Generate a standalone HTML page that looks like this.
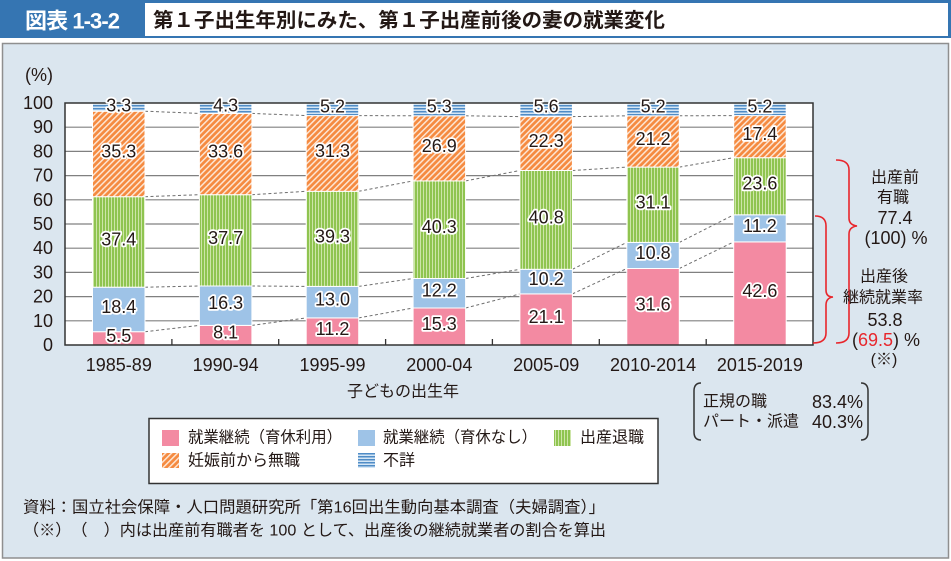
<!DOCTYPE html>
<html><head><meta charset="utf-8"><style>
html,body{margin:0;padding:0;background:#fff;}
svg{display:block;}
text{font-family:"Liberation Sans","Noto Sans CJK JP",sans-serif;fill:#231815;}
.lbl{font-size:18px;stroke:#fff;stroke-width:3.5px;paint-order:stroke;stroke-linejoin:round;}
.ax{font-size:18px;}
.lg{font-size:16px;}
.an{font-size:16px;}
</style></head><body>
<svg width="951" height="561" viewBox="0 0 951 561" xmlns="http://www.w3.org/2000/svg">
<defs>
<pattern id="po" width="4.2" height="4.2" patternUnits="userSpaceOnUse" patternTransform="rotate(45)">
<rect width="4.2" height="4.2" fill="#f58a40"/><rect width="1.5" height="4.2" fill="#fde6d4"/>
</pattern>
<pattern id="pg" width="3" height="3" patternUnits="userSpaceOnUse">
<rect width="3" height="3" fill="#8fc450"/><rect width="1" height="3" fill="#cde5a8"/>
</pattern>
<pattern id="pu" width="3" height="3" patternUnits="userSpaceOnUse">
<rect width="3" height="3" fill="#d4e6f5"/><rect width="3" height="1.5" fill="#4f8cc6"/>
</pattern>
</defs>
<!-- header -->
<rect x="0" y="0" width="951" height="38" fill="#3575b2"/>
<rect x="145" y="3" width="803" height="33" fill="#fff"/>
<text x="25" y="21" dominant-baseline="central" style="fill:#fff;font-size:22px;font-weight:bold" textLength="95" lengthAdjust="spacing">図表 1-3-2</text>
<text x="153" y="21" dominant-baseline="central" style="font-size:20px;font-weight:bold" textLength="512" lengthAdjust="spacingAndGlyphs">第１子出生年別にみた、第１子出産前後の妻の就業変化</text>
<!-- panel -->
<rect x="2.5" y="43.5" width="946" height="514.5" fill="#dbe6ef" stroke="#8f8f8f" stroke-width="1.5"/>
<!-- plot area -->
<rect x="65" y="103" width="748" height="242" fill="#fff"/>
<g stroke="#808080" stroke-width="1.2">
<line x1="65" x2="813" y1="320.8" y2="320.8"/><line x1="65" x2="813" y1="296.6" y2="296.6"/>
<line x1="65" x2="813" y1="272.4" y2="272.4"/><line x1="65" x2="813" y1="248.2" y2="248.2"/>
<line x1="65" x2="813" y1="224" y2="224"/><line x1="65" x2="813" y1="199.8" y2="199.8"/>
<line x1="65" x2="813" y1="175.6" y2="175.6"/><line x1="65" x2="813" y1="151.4" y2="151.4"/>
<line x1="65" x2="813" y1="127.2" y2="127.2"/>
</g>
<!-- dashed connectors -->
<g stroke="#6e6e6e" stroke-width="1" stroke-dasharray="3,2.5" fill="none">
<line x1="145" y1="331.7" x2="199.4" y2="325.4"/><line x1="145" y1="287.2" x2="199.4" y2="286"/><line x1="145" y1="196.7" x2="199.4" y2="194.7"/><line x1="145" y1="111.2" x2="199.4" y2="113.4"/>
<line x1="251.9" y1="325.4" x2="306.2" y2="317.9"/><line x1="251.9" y1="286" x2="306.2" y2="286.4"/><line x1="251.9" y1="194.7" x2="306.2" y2="191.3"/><line x1="251.9" y1="113.4" x2="306.2" y2="115.6"/>
<line x1="358.7" y1="317.9" x2="413.1" y2="308"/><line x1="358.7" y1="286.4" x2="413.1" y2="278.5"/><line x1="358.7" y1="191.3" x2="413.1" y2="180.9"/><line x1="358.7" y1="115.6" x2="413.1" y2="115.8"/>
<line x1="465.6" y1="308" x2="519.9" y2="293.9"/><line x1="465.6" y1="278.5" x2="519.9" y2="269.3"/><line x1="465.6" y1="180.9" x2="519.9" y2="170.5"/><line x1="465.6" y1="115.8" x2="519.9" y2="116.6"/>
<line x1="572.4" y1="293.9" x2="626.8" y2="268.5"/><line x1="572.4" y1="269.3" x2="626.8" y2="242.4"/><line x1="572.4" y1="170.5" x2="626.8" y2="167.1"/><line x1="572.4" y1="116.6" x2="626.8" y2="115.8"/>
<line x1="679.3" y1="268.5" x2="733.7" y2="241.9"/><line x1="679.3" y1="242.4" x2="733.7" y2="214.8"/><line x1="679.3" y1="167.1" x2="733.7" y2="157.7"/><line x1="679.3" y1="115.8" x2="733.7" y2="115.6"/>
</g>
<!-- bars -->
<g stroke="#fff" stroke-width="1">
<rect x="92.5" y="331.7" width="52.5" height="13.3" fill="#f38aa2"/>
<rect x="92.5" y="287.2" width="52.5" height="44.5" fill="#9ec3e7"/>
<rect x="92.5" y="196.7" width="52.5" height="90.5" fill="url(#pg)"/>
<rect x="92.5" y="111.2" width="52.5" height="85.5" fill="url(#po)"/>
<rect x="92.5" y="103.2" width="52.5" height="8" fill="url(#pu)"/>
<rect x="199.4" y="325.4" width="52.5" height="19.6" fill="#f38aa2"/>
<rect x="199.4" y="286" width="52.5" height="39.4" fill="#9ec3e7"/>
<rect x="199.4" y="194.7" width="52.5" height="91.3" fill="url(#pg)"/>
<rect x="199.4" y="113.4" width="52.5" height="81.3" fill="url(#po)"/>
<rect x="199.4" y="103" width="52.5" height="10.4" fill="url(#pu)"/>
<rect x="306.2" y="317.9" width="52.5" height="27.1" fill="#f38aa2"/>
<rect x="306.2" y="286.4" width="52.5" height="31.5" fill="#9ec3e7"/>
<rect x="306.2" y="191.3" width="52.5" height="95.1" fill="url(#pg)"/>
<rect x="306.2" y="115.6" width="52.5" height="75.7" fill="url(#po)"/>
<rect x="306.2" y="103" width="52.5" height="12.6" fill="url(#pu)"/>
<rect x="413.1" y="308" width="52.5" height="37" fill="#f38aa2"/>
<rect x="413.1" y="278.5" width="52.5" height="29.5" fill="#9ec3e7"/>
<rect x="413.1" y="180.9" width="52.5" height="97.6" fill="url(#pg)"/>
<rect x="413.1" y="115.8" width="52.5" height="65.1" fill="url(#po)"/>
<rect x="413.1" y="103" width="52.5" height="12.8" fill="url(#pu)"/>
<rect x="519.9" y="293.9" width="52.5" height="51.1" fill="#f38aa2"/>
<rect x="519.9" y="269.3" width="52.5" height="24.6" fill="#9ec3e7"/>
<rect x="519.9" y="170.5" width="52.5" height="98.8" fill="url(#pg)"/>
<rect x="519.9" y="116.6" width="52.5" height="53.9" fill="url(#po)"/>
<rect x="519.9" y="103" width="52.5" height="13.6" fill="url(#pu)"/>
<rect x="626.8" y="268.5" width="52.5" height="76.5" fill="#f38aa2"/>
<rect x="626.8" y="242.4" width="52.5" height="26.1" fill="#9ec3e7"/>
<rect x="626.8" y="167.1" width="52.5" height="75.3" fill="url(#pg)"/>
<rect x="626.8" y="115.8" width="52.5" height="51.3" fill="url(#po)"/>
<rect x="626.8" y="103.2" width="52.5" height="12.6" fill="url(#pu)"/>
<rect x="733.7" y="241.9" width="52.5" height="103.1" fill="#f38aa2"/>
<rect x="733.7" y="214.8" width="52.5" height="27.1" fill="#9ec3e7"/>
<rect x="733.7" y="157.7" width="52.5" height="57.1" fill="url(#pg)"/>
<rect x="733.7" y="115.6" width="52.5" height="42.1" fill="url(#po)"/>
<rect x="733.7" y="103" width="52.5" height="12.6" fill="url(#pu)"/>
</g>
<!-- frame -->
<rect x="65" y="103" width="748" height="242" fill="none" stroke="#333" stroke-width="1.5"/>
<g stroke="#333" stroke-width="1.3">
<line x1="171.9" x2="171.9" y1="345" y2="339"/><line x1="278.7" x2="278.7" y1="345" y2="339"/>
<line x1="385.6" x2="385.6" y1="345" y2="339"/><line x1="492.4" x2="492.4" y1="345" y2="339"/>
<line x1="599.3" x2="599.3" y1="345" y2="339"/><line x1="706.2" x2="706.2" y1="345" y2="339"/>
</g>
<!-- data labels -->
<g class="lbl" text-anchor="middle" dominant-baseline="central">
<text class="lbl" x="118.8" y="335.8">5.5</text><text class="lbl" x="118.8" y="306.9">18.4</text><text class="lbl" x="118.8" y="239.4">37.4</text><text class="lbl" x="118.8" y="151.4">35.3</text><text class="lbl" x="118.8" y="105.5">3.3</text>
<text class="lbl" x="225.6" y="332.7">8.1</text><text class="lbl" x="225.6" y="303.2">16.3</text><text class="lbl" x="225.6" y="237.8">37.7</text><text class="lbl" x="225.6" y="151.6">33.6</text><text class="lbl" x="225.6" y="105.5">4.3</text>
<text class="lbl" x="332.5" y="329">11.2</text><text class="lbl" x="332.5" y="299.7">13.0</text><text class="lbl" x="332.5" y="236.4">39.3</text><text class="lbl" x="332.5" y="151">31.3</text><text class="lbl" x="332.5" y="106.5">5.2</text>
<text class="lbl" x="439.3" y="324">15.3</text><text class="lbl" x="439.3" y="290.7">12.2</text><text class="lbl" x="439.3" y="227.2">40.3</text><text class="lbl" x="439.3" y="145.9">26.9</text><text class="lbl" x="439.3" y="106.5">5.3</text>
<text class="lbl" x="546.2" y="317">21.1</text><text class="lbl" x="546.2" y="279.1">10.2</text><text class="lbl" x="546.2" y="217.4">40.8</text><text class="lbl" x="546.2" y="141">22.3</text><text class="lbl" x="546.2" y="106.5">5.6</text>
<text class="lbl" x="653.1" y="304.3">31.6</text><text class="lbl" x="653.1" y="253">10.8</text><text class="lbl" x="653.1" y="202.3">31.1</text><text class="lbl" x="653.1" y="139">21.2</text><text class="lbl" x="653.1" y="106.5">5.2</text>
<text class="lbl" x="759.9" y="291">42.6</text><text class="lbl" x="759.9" y="225.9">11.2</text><text class="lbl" x="759.9" y="183.7">23.6</text><text class="lbl" x="759.9" y="134.1">17.4</text><text class="lbl" x="759.9" y="106.5">5.2</text>
</g>
<!-- y axis labels -->
<g class="ax" text-anchor="end" dominant-baseline="central">
<text class="ax" x="53" y="75">(%)</text>
<text class="ax" x="53" y="103">100</text><text class="ax" x="53" y="127.2">90</text><text class="ax" x="53" y="151.4">80</text>
<text class="ax" x="53" y="175.6">70</text><text class="ax" x="53" y="199.8">60</text><text class="ax" x="53" y="224">50</text>
<text class="ax" x="53" y="248.2">40</text><text class="ax" x="53" y="272.4">30</text><text class="ax" x="53" y="296.6">20</text>
<text class="ax" x="53" y="320.8">10</text><text class="ax" x="53" y="345">0</text>
</g>
<!-- x axis labels -->
<g text-anchor="middle" dominant-baseline="central">
<text class="ax" x="118.8" y="365">1985-89</text><text class="ax" x="225.6" y="365">1990-94</text>
<text class="ax" x="332.5" y="365">1995-99</text><text class="ax" x="439.3" y="365">2000-04</text>
<text class="ax" x="546.2" y="365">2005-09</text><text class="ax" x="653.1" y="365">2010-2014</text>
<text class="ax" x="759.9" y="365">2015-2019</text>
<text class="lg" x="403" y="392">子どもの出生年</text>
</g>
<!-- right annotation braces -->
<g stroke="#e8262c" stroke-width="1.6" fill="none">
<path d="M836,160 Q849,160 849,170 L849,218 Q849,225 857,226 Q849,227 849,234 L849,333 Q849,343 836,343"/>
<path d="M815,216 Q826,216 826,226 L826,290 Q826,297 833,297 Q826,298 826,305 L826,333 Q826,343 813,343"/>
</g>
<g class="an" text-anchor="middle" dominant-baseline="central">
<text class="an" x="895" y="178">出産前</text>
<text class="an" x="893" y="198">有職</text>
<text class="ax" x="895" y="218">77.4</text>
<text class="ax" x="896" y="238">(100) %</text>
<text class="an" x="884" y="277">出産後</text>
<text class="an" x="883" y="298">継続就業率</text>
<text class="ax" x="885" y="320">53.8</text>
<text class="ax" x="886" y="340">(<tspan style="fill:#e8262c">69.5</tspan>) %</text>
<text class="an" x="884" y="360">(※)</text>
</g>
<!-- notes box -->
<g stroke="#333" stroke-width="1.5" fill="none">
<path d="M701,383 Q694,383 694,391 L694,432 Q694,440 701,440"/>
<path d="M861,383 Q868,383 868,391 L868,432 Q868,440 861,440"/>
</g>
<g dominant-baseline="central">
<text class="lg" x="703" y="402">正規の職</text>
<text class="lg" x="703" y="422">パート・派遣</text>
<text class="ax" x="863" y="402" text-anchor="end">83.4%</text>
<text class="ax" x="863" y="422" text-anchor="end">40.3%</text>
</g>
<!-- legend -->
<rect x="149" y="418.5" width="509" height="65" fill="#fff" stroke="#333" stroke-width="1.5"/>
<rect x="162" y="430" width="17" height="16" fill="#f38aa2"/>
<rect x="358" y="430" width="17" height="16" fill="#9ec3e7"/>
<rect x="554" y="430" width="17" height="16" fill="url(#pg)"/>
<rect x="162" y="453" width="17" height="15" fill="url(#po)"/>
<rect x="358" y="453" width="17" height="15" fill="url(#pu)"/>
<g dominant-baseline="central">
<text class="lg" x="188" y="438" textLength="154" lengthAdjust="spacingAndGlyphs">就業継続（育休利用）</text>
<text class="lg" x="383" y="438" textLength="154" lengthAdjust="spacingAndGlyphs">就業継続（育休なし）</text>
<text class="lg" x="580" y="438">出産退職</text>
<text class="lg" x="188" y="461">妊娠前から無職</text>
<text class="lg" x="383" y="461">不詳</text>
</g>
<!-- footnotes -->
<g dominant-baseline="central">
<text class="lg" x="23" y="508" textLength="582" lengthAdjust="spacingAndGlyphs">資料：国立社会保障・人口問題研究所「第16回出生動向基本調査（夫婦調査）」</text>
<text class="lg" x="23" y="531" textLength="583" lengthAdjust="spacingAndGlyphs">（※）　（　）内は出産前有職者を 100 として、出産後の継続就業者の割合を算出</text>
</g>
</svg>
</body></html>
